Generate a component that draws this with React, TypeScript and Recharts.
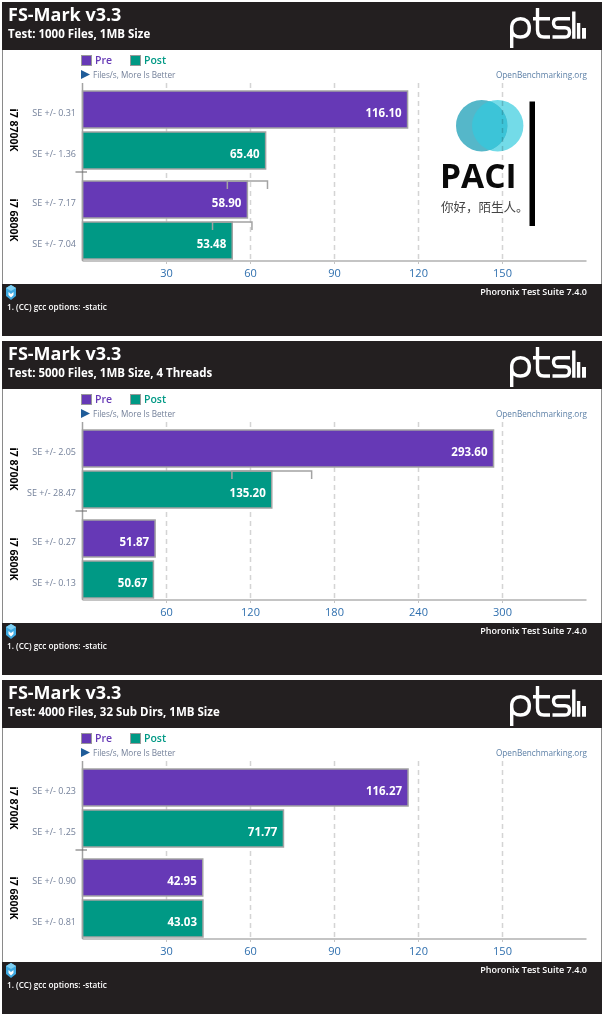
import React from "react";
import { BarChart, Bar, XAxis, YAxis, CartesianGrid, Legend, LabelList } from "recharts";

const categories = ["i7 8700K", "i7 6800K"];

const pre1000 = [116.1, 58.9];
const post1000 = [65.4, 53.48];
const preSe1000 = [0.31, 7.17];
const postSe1000 = [1.36, 7.04];
const ticks1000 = [30, 60, 90, 120, 150];

const pre5000 = [293.6, 51.87];
const post5000 = [135.2, 50.67];
const preSe5000 = [2.05, 0.27];
const postSe5000 = [28.47, 0.13];
const ticks5000 = [60, 120, 180, 240, 300];

const pre4000 = [116.27, 42.95];
const post4000 = [71.77, 43.03];
const preSe4000 = [0.23, 0.9];
const postSe4000 = [1.25, 0.81];
const ticks4000 = [30, 60, 90, 120, 150];

const FONT = "'Open Sans', sans-serif";
const PURPLE = "#6639b6";
const TEAL = "#009985";
const DARK = "#231f20";
const EDGE = "#a3a3a3";

const makeTable = (pre: number[], post: number[], preSe: number[], postSe: number[]) =>
  categories.map((name, i) => ({ name, pre: pre[i], post: post[i], preSe: preSe[i], postSe: postSe[i] }));

// bar with its outline, the SE text left of the axis and the PTS style error bar hung from the top edge
const barShape = (valueKey: string, seKey: string) => (props: any) => {
  const { x, y, width, height, fill, payload } = props;
  const value = payload[valueKey];
  const se = payload[seKey];
  const perUnit = width / value;
  const low = x + (value - se) * perUnit;
  const high = x + (value + se) * perUnit;
  return (
    <g>
      <rect x={x} y={y} width={width} height={height} fill={fill} stroke={EDGE} strokeWidth={1.5} />
      {/* tiny errors are not drawn in the original */}
      {se / value > 0.1 && (
        <path d={`M${low} ${y + 8}V${y}H${high}V${y + 8}`} fill="none" stroke={EDGE} strokeWidth={1.5} />
      )}
      <text x={76} y={y + height / 2 + 3} textAnchor="end" dominantBaseline="central" fontSize={9} fontFamily={FONT} fill="#74819a">
        {`SE +/- ${se.toFixed(2)}`}
      </text>
    </g>
  );
};

const ValueLabel = ({ x, y, width, height, value }: any) => (
  <text
    x={x + width - 6}
    y={y + height / 2 + 2.5}
    textAnchor="end"
    dominantBaseline="central"
    fontSize={11.5}
    fontWeight={700}
    fontFamily={FONT}
    fill="#fff"
  >
    {Number(value).toFixed(2)}
  </text>
);

const CategoryTick = ({ y, payload }: any) => (
  <text
    x={14}
    y={y}
    transform={`rotate(90 14 ${y})`}
    textAnchor="middle"
    dominantBaseline="central"
    fontSize={10.5}
    fontWeight={700}
    fontFamily={FONT}
    fill="#000"
  >
    {payload.value}
  </text>
);

const LegendRow = ({ payload }: any) => (
  <div style={{ position: "relative", height: 12, width: 120 }}>
    {(payload || []).map((item: any, i: number) => (
      <div key={item.value} style={{ position: "absolute", left: i * 49, top: 0, display: "flex", alignItems: "center" }}>
        <span style={{ width: 9, height: 9, background: item.color, border: "1px solid #999", display: "inline-block" }} />
        <span style={{ marginLeft: 3, fontSize: 10.5, fontWeight: 600, fontFamily: FONT, color: item.color, lineHeight: "12px" }}>
          {item.value}
        </span>
      </div>
    ))}
  </div>
);

const PtsLogo = () => (
  <g fill="none" stroke="#fff" strokeWidth={3.4}>
    <path d="M511.7 46V26C511.7 19.5 515.5 16.7 520.5 16.7S529.3 19.5 529.3 26S525.5 35 520.5 35C516 35 511.7 32.5 511.7 27" />
    <path d="M537.5 6V28C537.5 33 540 35 544 35H550M533 16.7H550" />
    <path d="M570 16.7H558C554.5 16.7 553.5 18.5 553.5 21S555 25.8 558 25.8H565C568 25.8 569.5 27.5 569.5 30.2S568 35 565 35H552.5" />
    <path d="M573.8 9.5V36.7M578.6 21V36.7" />
    <path d="M584 26V36.7" strokeWidth={4} />
  </g>
);

const FooterIcon = () => (
  <g>
    <path d="M11 285L16 288V296L11 300L6 296V288Z" fill="#3fa9e0" />
    <path d="M11 285L16 288L11 291L6 288Z" fill="#7fd0f2" />
    <path d="M8.5 292L11 294L13.5 292V295L11 297.5L8.5 295Z" fill="#fff" />
  </g>
);

const PaciLogo = () => (
  <div style={{ position: "absolute", left: 0, top: 0, mixBlendMode: "multiply" }}>
    <svg width={605} height={334} style={{ display: "block" }}>
      <circle cx={497.7} cy={123.7} r={25.7} fill="#73dbe8" />
      <circle cx={481.7} cy={123.7} r={25.7} fill="#55b7c9" />
      <path d="M489.7 99.3A25.7 25.7 0 0 1 489.7 148.1A25.7 25.7 0 0 1 489.7 99.3Z" fill="#3cc4d8" />
      <text x={440} y={186} fontSize={33.5} fontWeight={700} fontFamily={FONT} fill="#0a0a0a">PACI</text>
      <text x={441} y={210} fontSize={12.5} fontFamily="'Noto Sans CJK SC'" fill="#444">你好，陌生人。</text>
      <rect x={529.5} y={99.5} width={5.5} height={124.5} fill="#000" />
    </svg>
  </div>
);

interface PanelProps {
  top: number;
  subtitle: string;
  data: ReturnType<typeof makeTable>;
  max: number;
  ticks: number[];
  watermark?: boolean;
}

const Panel = ({ top, subtitle, data, max, ticks, watermark }: PanelProps) => (
  <div style={{ position: "absolute", left: 0, top, width: 605, height: 334 }}>
    <BarChart
      width={605}
      height={334}
      layout="vertical"
      data={data}
      margin={{ top: 81, right: 18.5, bottom: 0, left: 0 }}
      barSize={37}
      barGap={4}
    >
      <CartesianGrid
        horizontal={false}
        vertical
        syncWithTicks
        strokeDasharray="5 4"
        stroke="#d4d4d4"
        strokeWidth={1.5}
      />
      <XAxis
        type="number"
        domain={[0, max]}
        ticks={ticks}
        height={75}
        axisLine={{ stroke: "#b0b0b0", strokeWidth: 1.5 }}
        tickLine={{ stroke: "#c4c4c4" }}
        tickSize={3}
        tickMargin={5}
        tick={{ fontSize: 11, fontFamily: FONT, fill: "#2f6fae" }}
      />
      <YAxis
        type="category"
        dataKey="name"
        width={82.5}
        padding={{ top: 2, bottom: -4 }}
        axisLine={{ stroke: "#a3a3a3", strokeWidth: 1.5 }}
        tickLine={false}
        tick={<CategoryTick />}
      />
      <Legend
        verticalAlign="middle"
        layout="horizontal"
        itemSorter={null}
        wrapperStyle={{ left: 81, top: 52, width: 120 }}
        content={<LegendRow />}
      />
      <Bar dataKey="pre" name="Pre" fill={PURPLE} shape={barShape("pre", "preSe")} isAnimationActive={false}>
        <LabelList dataKey="pre" content={<ValueLabel />} />
      </Bar>
      <Bar dataKey="post" name="Post" fill={TEAL} shape={barShape("post", "postSe")} isAnimationActive={false}>
        <LabelList dataKey="post" content={<ValueLabel />} />
      </Bar>
    </BarChart>

    {/* frame, header and footer around the plot */}
    <svg width={605} height={334} style={{ position: "absolute", left: 0, top: 0, pointerEvents: "none" }} fontFamily={FONT}>
      <rect x={2} y={0} width={600} height={48} fill={DARK} />
      <rect x={2} y={282} width={600} height={52} fill={DARK} />
      <rect x={2} y={48} width={1} height={234} fill="#8a8a8a" />
      <rect x={601} y={48} width={1} height={234} fill="#8a8a8a" />
      <text x={8} y={19} fontSize={18} fontWeight={700} fill="#fff">FS-Mark v3.3</text>
      <text x={8} y={36} fontSize={11.5} fontWeight={700} fill="#fff">{subtitle}</text>
      <PtsLogo />
      <path d="M81 68V77L90 72.5Z" fill="#1f5c99" />
      <text x={93} y={75.5} fontSize={8.2} fill="#74819a">Files/s, More Is Better</text>
      <text x={587} y={75.5} fontSize={8.2} textAnchor="end" fill="#5b7fa6">OpenBenchmarking.org</text>
      <line x1={75.5} x2={87} y1={170} y2={170} stroke="#666" />
      <text x={587} y={293} fontSize={9} fontWeight={600} textAnchor="end" fill="#fff">Phoronix Test Suite 7.4.0</text>
      <text x={7} y={307.5} fontSize={8.2} fontWeight={600} fill="#fff">1. (CC) gcc options: -static</text>
      <g transform="translate(0 -2)">
        <FooterIcon />
      </g>
    </svg>
    {watermark && <PaciLogo />}
  </div>
);

const App = () => (
  <div style={{ position: "absolute", left: 0, top: 0, width: 605, height: 1019, background: "#fff", overflow: "hidden" }}>
    <Panel
      top={2}
      subtitle="Test: 1000 Files, 1MB Size"
      data={makeTable(pre1000, post1000, preSe1000, postSe1000)}
      max={180}
      ticks={ticks1000}
      watermark
    />
    <Panel
      top={341}
      subtitle="Test: 5000 Files, 1MB Size, 4 Threads"
      data={makeTable(pre5000, post5000, preSe5000, postSe5000)}
      max={360}
      ticks={ticks5000}
    />
    <Panel
      top={680}
      subtitle="Test: 4000 Files, 32 Sub Dirs, 1MB Size"
      data={makeTable(pre4000, post4000, preSe4000, postSe4000)}
      max={180}
      ticks={ticks4000}
    />
  </div>
);

export default App;
